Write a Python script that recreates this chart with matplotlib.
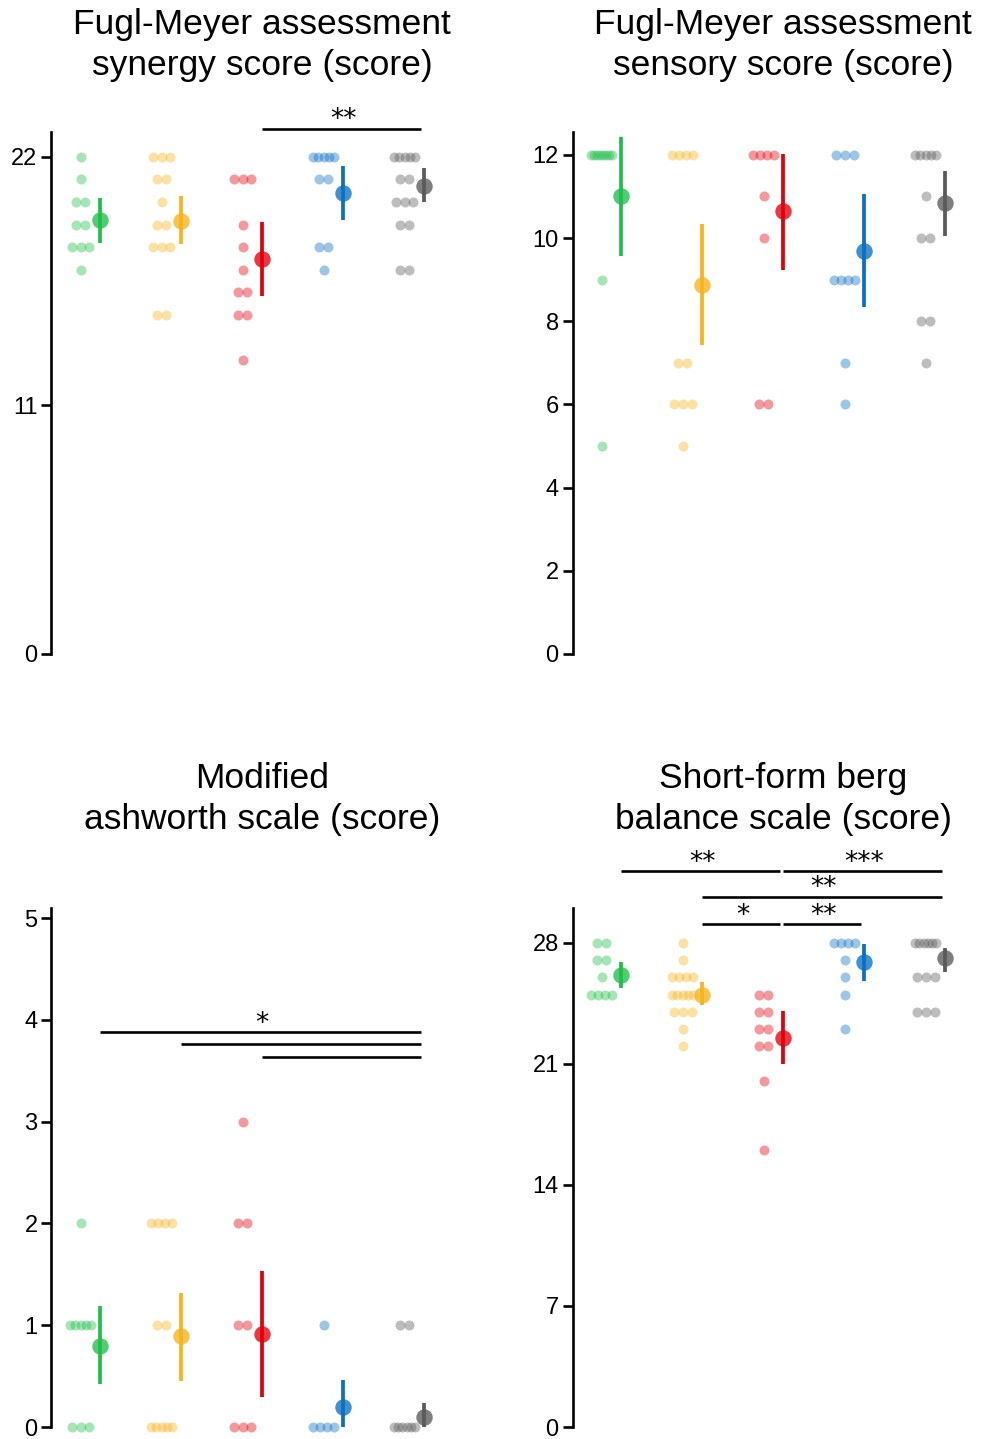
import matplotlib
matplotlib.use('Agg')
import matplotlib.pyplot as plt
import matplotlib.transforms as mtransforms
import numpy as np

plt.rcParams['font.family'] = ['Liberation Sans', 'DejaVu Sans']

colors = ['#1fbf4a', '#f7b41c', '#e2000c', '#0a70c2', '#5a5a5a']

# top-left: synergy score
syn_titles = 'Fugl-Meyer assessment\nsynergy score (score)'
syn_green = [22, 21, 20, 20, 19, 19, 18, 18, 18, 17]
syn_orange = [22, 22, 22, 21, 21, 20, 19, 19, 18, 18, 18, 15, 15]
syn_red = [21, 21, 21, 19, 18, 17, 16, 16, 15, 15, 13]
syn_blue = [22, 22, 22, 22, 22, 21, 21, 18, 18, 17]
syn_gray = [22, 22, 22, 22, 22, 21, 21, 20, 20, 20, 19, 19, 17, 17]
syn_mean = [19.2, 19.15, 17.5, 20.4, 20.7]
syn_lo = [18.2, 18.15, 15.85, 19.2, 20.0]
syn_hi = [20.2, 20.25, 19.1, 21.6, 21.5]
syn_ticks = [0, 11, 22]
syn_sig = [(3, 5, 23.24, '**')]

# top-right: sensory score
sen_title = 'Fugl-Meyer assessment\nsensory score (score)'
sen_green = [12, 12, 12, 12, 12, 12, 12, 12, 9, 5]
sen_orange = [12, 12, 12, 12, 7, 7, 6, 6, 6, 5]
sen_red = [12, 12, 12, 12, 11, 10, 6, 6]
sen_blue = [12, 12, 12, 9, 9, 9, 9, 7, 6]
sen_gray = [12, 12, 12, 12, 12, 11, 10, 10, 8, 8, 7]
sen_mean = [11.0, 8.88, 10.64, 9.7, 10.85]
sen_lo = [9.57, 7.43, 9.23, 8.34, 10.05]
sen_hi = [12.43, 10.33, 12.02, 11.06, 11.62]
sen_ticks = [0, 2, 4, 6, 8, 10, 12]
sen_sig = []

# bottom-left: modified ashworth
mas_title = 'Modified\nashworth scale (score)'
mas_green = [2, 1, 1, 1, 1, 1, 0, 0, 0]
mas_orange = [2, 2, 2, 2, 1, 1, 0, 0, 0, 0, 0]
mas_red = [3, 2, 2, 1, 1, 0, 0, 0]
mas_blue = [1, 0, 0, 0, 0]
mas_gray = [1, 1, 0, 0, 0, 0, 0, 0]
mas_mean = [0.8, 0.89, 0.91, 0.2, 0.1]
mas_lo = [0.42, 0.45, 0.29, 0.0, 0.0]
mas_hi = [1.19, 1.32, 1.53, 0.46, 0.24]
mas_ticks = [0, 1, 2, 3, 4, 5]
mas_sig = [(1, 5, 3.88, '*'), (2, 5, 3.76, ''), (3, 5, 3.64, '')]

# bottom-right: short-form berg balance
bbs_title = 'Short-form berg\nbalance scale (score)'
bbs_green = [28, 28, 27, 27, 26, 25, 25, 25, 25]
bbs_orange = [28, 27, 26, 26, 26, 26, 25, 25, 25, 25, 25, 24, 24, 24, 23, 22]
bbs_red = [25, 25, 24, 24, 23, 23, 22, 22, 20, 16]
bbs_blue = [28, 28, 28, 28, 27, 26, 25, 23]
bbs_gray = [28, 28, 28, 28, 28, 28, 26, 26, 26, 24, 24, 24]
bbs_mean = [26.1, 25.0, 22.5, 26.9, 27.1]
bbs_lo = [25.35, 24.4, 21.0, 25.8, 26.3]
bbs_hi = [26.9, 25.7, 24.04, 27.9, 27.7]
bbs_ticks = [0, 7, 14, 21, 28]
bbs_sig = [(1, 3, 32.14, '**'), (3, 5, 32.14, '***'), (2, 5, 30.66, '**'),
           (2, 3, 29.07, '*'), (3, 4, 29.07, '**')]

W, H = 983, 1439
fig = plt.figure(figsize=(W / 100, H / 100), dpi=100)


def panel(rect, ymax, title, groups, mean, lo, hi, ticks, sig, title_y):
    ax = fig.add_axes(rect)
    for i, (vals, c) in enumerate(zip(groups, colors)):
        pos = i + 1
        vals = np.array(vals)
        xs = []
        ys = []
        for v in np.unique(vals):
            n = int((vals == v).sum())
            step = min(0.11, 0.26 / max(n - 1, 1))
            for k in range(n):
                xs.append(pos - 0.24 + (k - (n - 1) / 2) * step)
                ys.append(v)
        ax.scatter(xs, ys, s=52, color=c, alpha=0.4, linewidths=0, clip_on=False, zorder=2)
        ax.vlines(pos, lo[i], hi[i], color=c, lw=2.7, zorder=3, clip_on=False)
        ax.scatter([pos], [mean[i]], s=140, color=c, alpha=0.78, linewidths=0, zorder=4, clip_on=False)

    for x1, x2, y, lab in sig:
        ax.plot([x1, x2 - 0.04], [y, y], color='black', lw=1.9, clip_on=False, solid_capstyle='butt')
        if lab:
            t = ax.transData + mtransforms.ScaledTranslation(0, 1 / 72, fig.dpi_scale_trans)
            ax.text((x1 + x2) / 2, y, lab, transform=t, clip_on=False,
                    ha='center', va='baseline', fontsize=19, family='DejaVu Sans')

    ax.set_xlim(0.4, 5.4)
    ax.set_ylim(0, ymax)
    ax.set_yticks(ticks)
    ax.set_xticks([])
    for s in ['top', 'right', 'bottom']:
        ax.spines[s].set_visible(False)
    ax.spines['left'].set_linewidth(1.9)
    ax.tick_params(axis='y', length=7, width=1.9, labelsize=17, pad=3)
    trans = mtransforms.blended_transform_factory(ax.transData, ax.transAxes)
    ax.text(3, title_y, title, transform=trans, ha='center', va='center', fontsize=25.5,
            linespacing=1.3)
    return ax


wfrac = 5 * 81 / W
top_b, top_h = (H - 654) / H, (654 - 132) / H
bot_b, bot_h = (H - 1427) / H, (1427 - 908) / H

panel([51.4 / W, top_b, wfrac, top_h], 23.1, syn_titles,
      [syn_green, syn_orange, syn_red, syn_blue, syn_gray],
      syn_mean, syn_lo, syn_hi, syn_ticks, syn_sig, 1.167)
panel([572.6 / W, top_b, wfrac, top_h], 12.55, sen_title,
      [sen_green, sen_orange, sen_red, sen_blue, sen_gray],
      sen_mean, sen_lo, sen_hi, sen_ticks, sen_sig, 1.167)
panel([51.4 / W, bot_b, wfrac, bot_h], 5.1, mas_title,
      [mas_green, mas_orange, mas_red, mas_blue, mas_gray],
      mas_mean, mas_lo, mas_hi, mas_ticks, mas_sig, 1.21)
panel([572.6 / W, bot_b, wfrac, bot_h], 30.0, bbs_title,
      [bbs_green, bbs_orange, bbs_red, bbs_blue, bbs_gray],
      bbs_mean, bbs_lo, bbs_hi, bbs_ticks, bbs_sig, 1.21)

fig.savefig('out.png', dpi=100)
